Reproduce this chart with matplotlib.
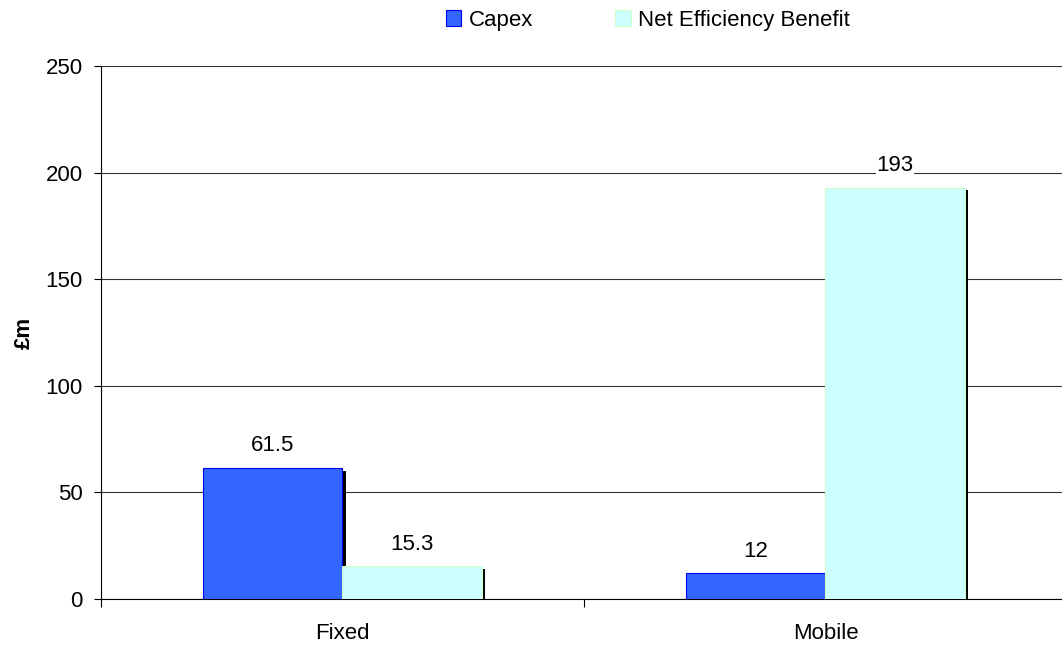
import numpy as np
import matplotlib
matplotlib.use("Agg")
import matplotlib.pyplot as plt

plt.rcParams['font.family'] = ['Liberation Sans', 'DejaVu Sans']

# data
categories = ["Fixed", "Mobile"]
capex = [61.5, 12]
net_benefit = [15.3, 193]
capex_labels = ["61.5", "12"]
net_labels = ["15.3", "193"]

fig = plt.figure(figsize=(10.62, 6.45), dpi=100)
ax = fig.add_axes([0.0951, 0.0713, 0.9096, 0.8264])

x = np.arange(len(categories))
w = 0.288
sx = 0.0065   # shadow offset
sy = 1.4
fs = 16

# black shadows behind the bars
ax.bar(x - w / 2 + sx, np.array(capex) - sy, w, color="black", zorder=2)
ax.bar(x + w / 2 + sx, np.array(net_benefit) - sy, w, color="black", zorder=2)

b1 = ax.bar(x - w / 2, capex, w, color="#3366FF", edgecolor="#0000EE",
            linewidth=0.8, label="Capex", zorder=3)
b2 = ax.bar(x + w / 2, net_benefit, w, color="#CCFFFF", edgecolor="#CCFFCC",
            linewidth=0.8, label="Net Efficiency Benefit", zorder=3)

for bars, labels in [(b1, capex_labels), (b2, net_labels)]:
    for rect, lab in zip(bars, labels):
        ax.text(rect.get_x() + rect.get_width() / 2, rect.get_height() + 10.5, lab,
                ha="center", va="center", fontsize=fs,
                bbox=dict(facecolor="white", edgecolor="none", pad=0.5), zorder=4)

ax.set_xlim(-0.5, 1.5)
ax.set_ylim(0, 250)
ax.set_yticks(np.arange(0, 251, 50))
ax.set_xticks(x)
ax.set_xticklabels(categories)
ax.set_xticks([-0.5, 0.5, 1.5], minor=True)
ax.tick_params(axis="x", which="major", length=0, pad=17, labelsize=fs)
ax.tick_params(axis="x", which="minor", length=6, width=0.8)
ax.tick_params(axis="y", length=5, width=0.8, labelsize=fs, pad=8)

ax.grid(axis="y", color="#333333", linewidth=0.8, zorder=0)
ax.set_axisbelow(True)
for s in ["top", "right"]:
    ax.spines[s].set_visible(False)
ax.spines["left"].set_linewidth(0.8)
ax.spines["bottom"].set_linewidth(0.8)

ax.set_ylabel("£m", fontsize=fs, fontweight="bold", labelpad=8)

ax.legend(handles=[b1, b2], loc="center", bbox_to_anchor=(0.566, 1.086),
          ncol=2, frameon=False, fontsize=fs, handlelength=0.7, handleheight=0.7,
          handletextpad=0.32, columnspacing=3.7, borderpad=0)

fig.savefig("out.png", dpi=100)
